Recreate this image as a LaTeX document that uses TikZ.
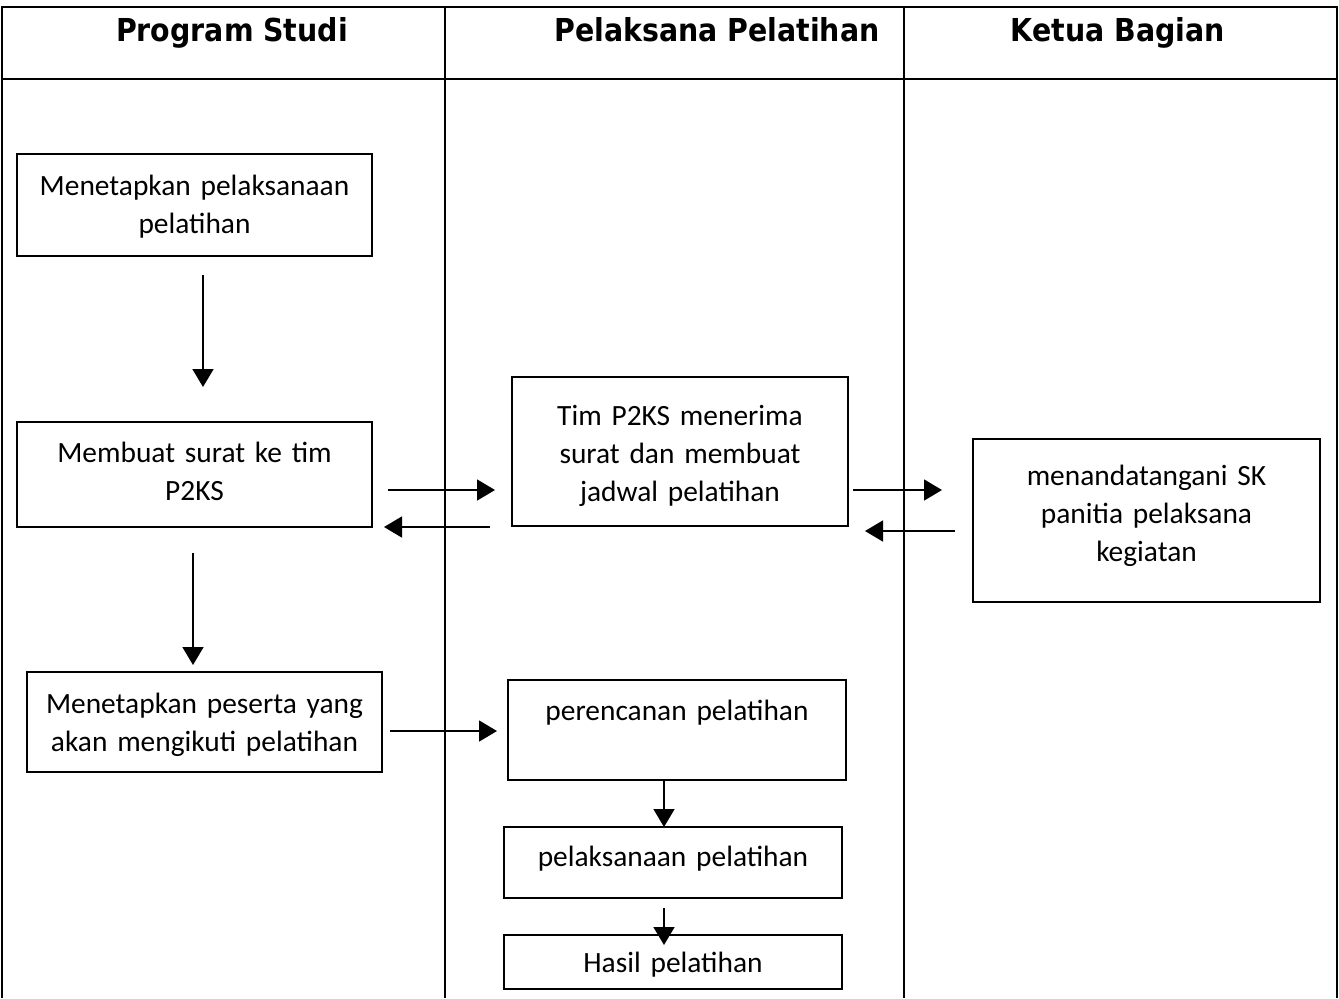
\documentclass[tikz,border=0pt]{standalone}
\usepackage{fontspec}
\setmainfont{Carlito}
\newfontfamily\headfont{DejaVu Sans Condensed}
\usepackage{tikz}
\usetikzlibrary{arrows.meta,positioning}
\newcommand\bodysize{\fontsize{14.7}{19}\selectfont}
\tikzset{
  lane/.style={line width=1.3pt},
  lanehead/.style={anchor=base, inner sep=0pt, font=\headfont\bfseries\fontsize{15.8}{19}\selectfont},
  proc/.style={
    draw, line width=0.9pt, anchor=north west, inner sep=0pt, outer sep=0pt,
    align=center, font=\bodysize},
  flow/.style={-{Triangle[length=9pt,width=10.5pt]}, line width=0.8pt},
}

\begin{document}
\begin{tikzpicture}[x=0.5pt, y=-0.5pt]
  \useasboundingbox (0,0) rectangle (1339,998);

  % swimlane table
  \draw[lane] (2,998) -- (2,7) -- (1337,7) -- (1337,998);
  \draw[lane] (2,79) -- (1337,79);
  \draw[lane] (445,7) -- (445,998);
  \draw[lane] (904,7) -- (904,998);

  \node[lanehead] (prodi) at (232,41) {Program Studi};
  \node[lanehead] (pelaksana) at (717,41) {Pelaksana Pelatihan};
  \node[lanehead] (ketua) at (1118,41) {Ketua Bagian};

  % Program Studi
  \node[proc, text width=177.5pt, text height=20.5pt, text depth=30.5pt] (tetap) at (17,154)
    {Menetapkan pelaksanaan\\pelatihan};
  \node[proc, text width=177.5pt, text height=20pt, text depth=32.5pt] (surat) at (17,422)
    {Membuat surat ke tim\\P2KS};
  \node[proc, text width=177.5pt, text height=20.5pt, text depth=29.5pt] (peserta) at (27,672)
    {Menetapkan peserta yang\\akan mengikuti pelatihan};

  % Pelaksana Pelatihan
  \node[proc, text width=168pt, text height=24pt, text depth=50.5pt] (jadwal) at (512,377)
    {Tim P2KS menerima\\surat dan membuat\\jadwal pelatihan};
  \node[proc, text width=169pt, text height=20pt, text depth=30pt] (rencana) at (508,680)
    {perencanan pelatihan};
  \node[proc, text width=169pt, text height=19.5pt, text depth=16pt] (laksana) at (504,827)
    {pelaksanaan pelatihan};
  \node[proc, text width=169pt, text height=18.5pt, text depth=8.5pt] (hasil) at (504,935)
    {Hasil pelatihan};

  % Ketua Bagian
  \node[proc, text width=173.5pt, text height=23pt, text depth=58.5pt] (sk) at (973,439)
    {menandatangani SK\\panitia pelaksana\\kegiatan};

  % flow
  \draw[flow, shorten <=9.5pt, shorten >=17.5pt]
    ([xshift=4.25pt]tetap.south) -- ([xshift=4.25pt]tetap.south |- surat.north);
  \draw[flow, shorten <=13pt, shorten >=3.5pt]
    ([xshift=-0.75pt]surat.south) -- ([xshift=-0.75pt]surat.south |- peserta.north);
  \draw[flow, shorten <=8pt, shorten >=8.5pt]
    ([yshift=-7.75pt]surat.east) -- ([yshift=-7.75pt]surat.east -| jadwal.west);
  \draw[flow, shorten <=11pt, shorten >=6pt]
    (surat.south east -| jadwal.west) -- (surat.south east);
  \draw[flow, shorten <=2.5pt, shorten >=15.5pt]
    ([yshift=-19.25pt]jadwal.east) -- ([yshift=-19.25pt]jadwal.east -| sk.west);
  \draw[flow, shorten <=9pt, shorten >=8.5pt]
    ([yshift=-5.25pt]sk.west) -- ([yshift=-5.25pt]sk.west -| jadwal.east);
  \draw[flow, shorten <=4pt, shorten >=5.5pt]
    ([yshift=-4.5pt]peserta.east) -- ([yshift=-4.5pt]peserta.east -| rencana.west);
  \draw[flow]
    ([xshift=-6.5pt]rencana.south) -- ([xshift=-6.5pt]rencana.south |- laksana.north);
  \draw[flow, shorten <=5pt, shorten >=-5pt]
    ([xshift=-4.5pt]laksana.south) -- ([xshift=-4.5pt]laksana.south |- hasil.north);
\end{tikzpicture}
\end{document}
